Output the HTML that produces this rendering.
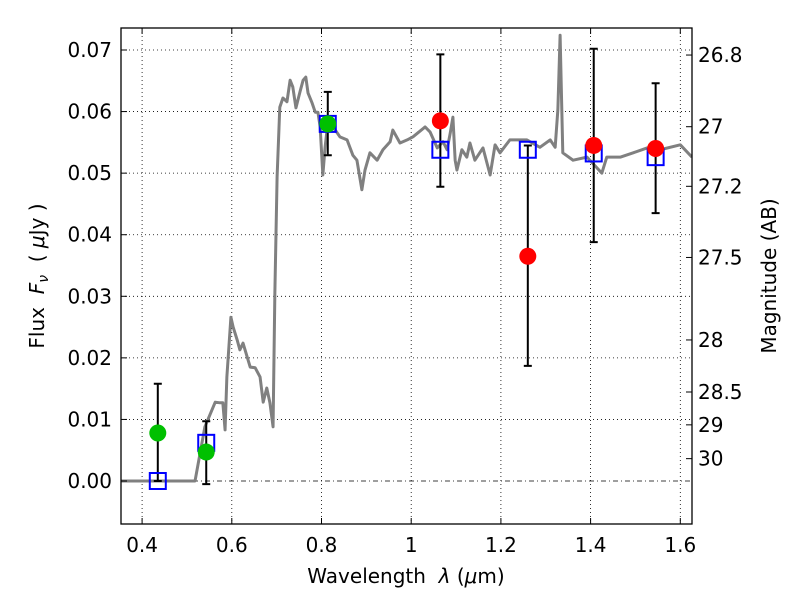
<!DOCTYPE html>
<html><head><meta charset="utf-8">
<style>
html,body{margin:0;padding:0;background:#fff;}
svg{display:block;font-family:"DejaVu Sans","Liberation Sans",sans-serif;}
text{white-space:pre;}
</style></head>
<body>
<svg id="chart" width="800" height="600" viewBox="0 0 800 600" xmlns="http://www.w3.org/2000/svg">
<rect width="800" height="600" fill="#fff"/>
<defs><clipPath id="clip"><rect x="121" y="28" width="571" height="496"/></clipPath></defs>
<g id="grid"></g>
<g id="plot" clip-path="url(#clip)"></g>
<g id="axes"></g>
<text x="406" y="583" font-size="20" text-anchor="middle">Wavelength  <tspan font-style="italic">λ</tspan> (<tspan font-style="italic">μ</tspan>m)</text>
<text transform="translate(44,276) rotate(-90)" font-size="20" text-anchor="middle">Flux  <tspan font-style="italic">F</tspan><tspan font-style="italic" font-size="14" dy="4">ν</tspan><tspan dy="-4">  ( </tspan><tspan font-style="italic">μ</tspan>Jy )</text>
<text transform="translate(776,276) rotate(-90)" font-size="20" text-anchor="middle">Magnitude (AB)</text>
</svg>
<script>
const specLam=[0.353,0.518,0.540,0.563,0.574,0.580,0.585,0.589,0.598,0.603,0.612,0.618,0.625,0.641,0.652,0.663,0.670,0.678,0.685,0.692,0.696,0.701,0.707,0.714,0.723,0.730,0.736,0.743,0.752,0.759,0.765,0.770,0.779,0.786,0.792,0.797,0.803,0.808,0.814,0.826,0.841,0.857,0.870,0.879,0.890,0.897,0.908,0.924,0.937,0.953,0.959,0.975,0.991,1.004,1.031,1.042,1.058,1.071,1.080,1.087,1.093,1.098,1.102,1.113,1.124,1.131,1.142,1.160,1.176,1.187,1.198,1.220,1.258,1.287,1.310,1.321,1.327,1.332,1.338,1.361,1.392,1.425,1.436,1.466,1.495,1.526,1.555,1.600,1.626];
const specFlux=[0,0,0.0088,0.0128,0.0127,0.0127,0.0083,0.0169,0.0266,0.0250,0.0229,0.0213,0.0224,0.0185,0.0184,0.0169,0.0128,0.0151,0.0127,0.0088,0.0305,0.0494,0.0607,0.0622,0.0616,0.0651,0.0640,0.0606,0.0632,0.0651,0.0656,0.0630,0.0614,0.0599,0.0599,0.0575,0.0497,0.0542,0.0581,0.0575,0.0559,0.0554,0.0529,0.0521,0.0473,0.0505,0.0533,0.0521,0.0538,0.0551,0.0570,0.0549,0.0554,0.0559,0.0575,0.0567,0.0541,0.0551,0.0538,0.0565,0.0591,0.0521,0.0505,0.0538,0.0526,0.0549,0.0521,0.0541,0.0497,0.0546,0.0533,0.0554,0.0554,0.0542,0.0554,0.0542,0.0603,0.0724,0.0533,0.0521,0.0526,0.0500,0.0526,0.0526,0.0533,0.0541,0.0538,0.0546,0.0526];
const greenLam=[0.435,0.543,0.814];
const greenFlux=[0.0078,0.0047,0.0580];
const greenHi=[0.0158,0.0097,0.0632];
const greenLo=[0.0,-0.0005,0.0529];
const redLam=[1.065,1.26,1.407,1.545];
const redFlux=[0.0585,0.0365,0.0545,0.0540];
const redHi=[0.0693,0.0545,0.0702,0.0646];
const redLo=[0.0478,0.0187,0.0388,0.0435];
const modelLam=[0.435,0.543,0.814,1.065,1.26,1.407,1.545];
const modelFlux=[0.0,0.0062,0.0580,0.0538,0.0538,0.0532,0.0526];
const xTicks=[0.4,0.6,0.8,1.0,1.2,1.4,1.6];
const xTickLabels=["0.4","0.6","0.8","1","1.2","1.4","1.6"];
const yTicks=[0,0.01,0.02,0.03,0.04,0.05,0.06,0.07];
const yTickLabels=["0.00","0.01","0.02","0.03","0.04","0.05","0.06","0.07"];
const magTicks=[26.8,27,27.2,27.5,28,28.5,29,30];
const magTickLabels=["26.8","27","27.2","27.5","28","28.5","29","30"];

const L=121,R=692,T=28,B=524;
const X=v=>142.1+(v-0.4)*448.5;
const Y=v=>481-v*6157;
const magToFlux=m=>Math.pow(10,(23.9-m)/2.5);
const NS="http://www.w3.org/2000/svg";
function mk(parent,tag,attrs){const e=document.createElementNS(NS,tag);for(const k in attrs)e.setAttribute(k,attrs[k]);document.getElementById(parent).appendChild(e);return e;}

xTicks.forEach(v=>{const e=mk('grid','line',{x1:X(v),x2:X(v),y1:T,y2:B,stroke:'#000','stroke-width':0.8,'stroke-dasharray':'1,3'});

});
yTicks.forEach(v=>{if(v===0)return;const e=mk('grid','line',{x1:L,x2:R,y1:Y(v),y2:Y(v),stroke:'#000','stroke-width':0.8,'stroke-dasharray':'1,3'});

});
const z=mk('grid','line',{x1:L,x2:R,y1:Y(0),y2:Y(0),stroke:'#000','stroke-width':0.8,'stroke-dasharray':'5,3,1,3'});



const sp=mk('plot','polyline',{points:specLam.map((l,i)=>X(l)+','+Y(specFlux[i])).join(' '),fill:'none',stroke:'#808080','stroke-width':3,'stroke-linejoin':'round'});



function errbar(l,lo,hi,name){
 const x=X(l);
 const g=mk('plot','path',{d:`M${x},${Y(lo)}V${Y(hi)}M${x-4},${Y(lo)}H${x+4}M${x-4},${Y(hi)}H${x+4}`,stroke:'#000','stroke-width':2,fill:'none'});
 
 
}
greenLam.forEach((l,i)=>errbar(l,greenLo[i],greenHi[i],'green-errorbar'));
redLam.forEach((l,i)=>errbar(l,redLo[i],redHi[i],'red-errorbar'));
modelLam.forEach((l,i)=>{
 const s=mk('plot','rect',{x:X(l)-8,y:Y(modelFlux[i])-8,width:16,height:16,fill:'none',stroke:'#0000ff','stroke-width':2});
 
 
});
greenLam.forEach((l,i)=>{
 const c=mk('plot','circle',{cx:X(l),cy:Y(greenFlux[i]),r:8.5,fill:'#00c000'});
 
 
});
redLam.forEach((l,i)=>{
 const c=mk('plot','circle',{cx:X(l),cy:Y(redFlux[i]),r:8.5,fill:'#ff0000'});
 
 
});

const fr=mk('axes','rect',{x:L,y:T,width:R-L,height:B-T,fill:'none',stroke:'#000','stroke-width':1.3});


xTicks.forEach((v,i)=>{
 const x=X(v);
 mk('axes','path',{d:`M${x},${B}v-6M${x},${T}v6`,stroke:'#000','stroke-width':1});
 const t=mk('axes','text',{x:x,y:B+28,'font-size':20,'text-anchor':'middle'});
 t.textContent=xTickLabels[i];
 
 
});
yTicks.forEach((v,i)=>{
 const y=Y(v);
 mk('axes','path',{d:`M${L},${y}h6`,stroke:'#000','stroke-width':1});
 const t=mk('axes','text',{x:L-9,y:y+7,'font-size':20,'text-anchor':'end'});
 t.textContent=yTickLabels[i];
 
 
});
magTicks.forEach((m,i)=>{
 const y=Y(magToFlux(m));
 mk('axes','path',{d:`M${R},${y}h-6`,stroke:'#000','stroke-width':1});
 const t=mk('axes','text',{x:R+6,y:y+7,'font-size':20,'text-anchor':'start'});
 t.textContent=magTickLabels[i];
 
 
});
</script>
</body></html>
